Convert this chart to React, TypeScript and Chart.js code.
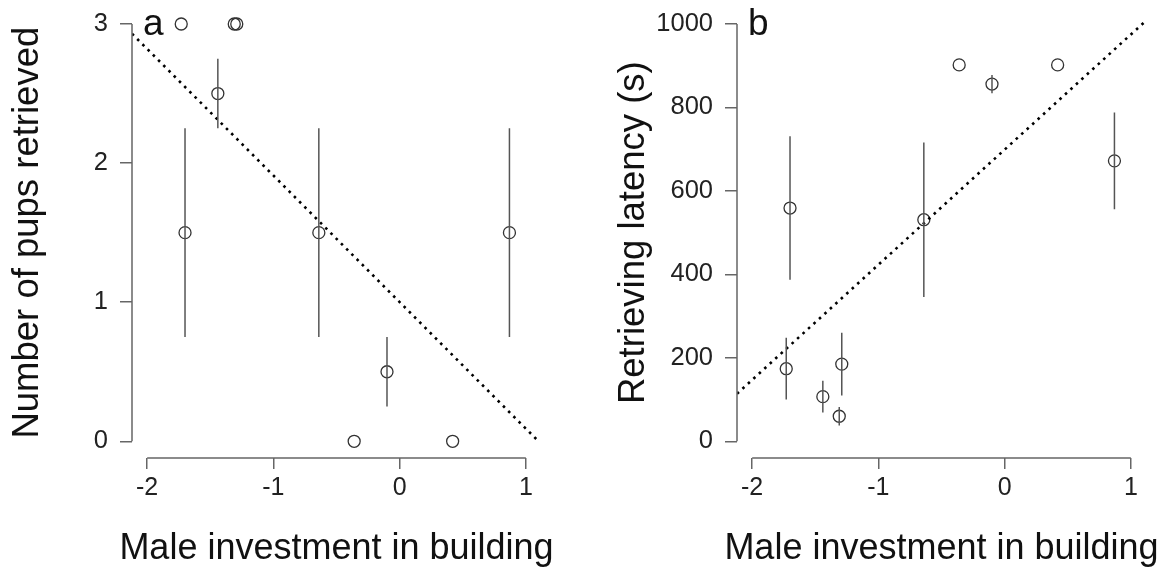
import React, { useEffect, useRef } from "react";
import { Chart, registerables } from "chart.js";

Chart.register(...registerables);

// ---- data ----
const investment = [-1.73, -1.7, -1.44, -1.31, -1.29, -0.64, -0.36, -0.1, 0.42, 0.87];
const pupsRetrieved = [3, 1.5, 2.5, 3, 3, 1.5, 0, 0.5, 0, 1.5];
const pupsError = [0, 0.75, 0.25, 0, 0, 0.75, 0, 0.25, 0, 0.75];
const latency = [174, 559, 107, 60, 185, 531, 902, 856, 902, 672];
const latencyError = [74, 172, 38, 22, 75, 185, 0, 22, 0, 116];

const fitPupsX = [-2.12, 1.1];
const fitPupsY = [2.93, 0];
const fitLatencyX = [-2.12, 1.12];
const fitLatencyY = [114, 1008];

const xTicks = [-2, -1, 0, 1];
const pupsTicks = [0, 1, 2, 3];
const latencyTicks = [0, 200, 400, 600, 800, 1000];

const xTitle = "Male investment in building";
const pupsTitle = "Number of pups retrieved";
const latencyTitle = "Retrieving latency (s)";

const FONT = '"Liberation Sans", Arial, Helvetica, sans-serif';
const AXIS = "#666";

const rStyle = {
  id: "rStyle",
  afterDraw(chart: any, _args: any, opts: any) {
    const { ctx, chartArea, scales } = chart;
    const x = scales.x;
    const y = scales.y;
    const xt = opts.xTicks as number[];
    const yt = opts.yTicks as number[];
    ctx.save();
    ctx.strokeStyle = AXIS;
    ctx.lineWidth = 1.5;
    ctx.beginPath();
    ctx.moveTo(x.getPixelForValue(xt[0]), chartArea.bottom);
    ctx.lineTo(x.getPixelForValue(xt[xt.length - 1]), chartArea.bottom);
    ctx.moveTo(chartArea.left, y.getPixelForValue(yt[0]));
    ctx.lineTo(chartArea.left, y.getPixelForValue(yt[yt.length - 1]));
    ctx.stroke();
    // panel letter
    ctx.fillStyle = "#111";
    ctx.font = `37px ${FONT}`;
    ctx.textBaseline = "alphabetic";
    ctx.textAlign = "left";
    ctx.fillText(opts.label, chartArea.left + 11, chartArea.top + 28);
    // x-axis title (drawn here so it is not squeezed to the axis width)
    ctx.font = `36px ${FONT}`;
    ctx.textAlign = "center";
    ctx.fillText(opts.xTitle, (chartArea.left + chartArea.right) / 2, chartArea.bottom + 101);
    ctx.restore();
  },
};

type PanelProps = {
  label: string;
  ys: number[];
  errs: number[];
  fitX: number[];
  fitY: number[];
  yTicks: number[];
  yMin: number;
  yMax: number;
  yTitle: string;
  yWidth: number;
  yTitlePad: number;
  padRight: number;
  left: number;
};

function Panel(p: PanelProps) {
  const ref = useRef<HTMLCanvasElement | null>(null);
  useEffect(() => {
    if (!ref.current) return;
    const errData: any[] = [];
    investment.forEach((x, i) => {
      if (p.errs[i] > 0) {
        errData.push({ x, y: p.ys[i] - p.errs[i] });
        errData.push({ x, y: p.ys[i] + p.errs[i] });
        errData.push({ x, y: null });
      }
    });
    const chart = new Chart(ref.current, {
      type: "scatter",
      data: {
        datasets: [
          {
            data: errData,
            showLine: true,
            spanGaps: false,
            pointRadius: 0,
            borderColor: "#555",
            borderWidth: 1.5,
          } as any,
          {
            data: p.fitX.map((x, i) => ({ x, y: p.fitY[i] })),
            showLine: true,
            pointRadius: 0,
            borderColor: "#000",
            borderWidth: 2.6,
            borderDash: [2.6, 4.8],
          } as any,
          {
            data: investment.map((x, i) => ({ x, y: p.ys[i] })),
            pointRadius: 6,
            pointStyle: "circle",
            backgroundColor: "rgba(0,0,0,0)",
            borderColor: "#333",
            borderWidth: 1.3,
          } as any,
        ],
      },
      options: {
        animation: false,
        responsive: true,
        maintainAspectRatio: false,
        layout: { padding: { left: 0, top: 5, right: p.padRight, bottom: 0 } },
        plugins: {
          legend: { display: false },
          tooltip: { enabled: false },
          rStyle: { label: p.label, xTicks, yTicks: p.yTicks, xTitle },
        } as any,
        scales: {
          x: {
            type: "linear",
            min: -2.12,
            max: 1.12,
            border: { display: false },
            grid: { drawOnChartArea: false, drawTicks: true, tickLength: 11, color: AXIS, lineWidth: 1.5 },
            afterBuildTicks: (s: any) => {
              s.ticks = xTicks.map((v) => ({ value: v }));
            },
            afterFit: (s: any) => {
              s.height = 116;
              s.paddingLeft = 0;
              s.paddingRight = 0;
            },
            ticks: {
              padding: 4,
              color: "#222",
              font: { family: FONT, size: 25 },
              maxRotation: 0,
              autoSkip: false,
              callback: (v: any) => String(v),
            },
            title: { display: false },
          },
          y: {
            type: "linear",
            min: p.yMin,
            max: p.yMax,
            border: { display: false },
            grid: { drawOnChartArea: false, drawTicks: true, tickLength: 12, color: AXIS, lineWidth: 1.5 },
            afterBuildTicks: (s: any) => {
              s.ticks = p.yTicks.map((v) => ({ value: v }));
            },
            afterFit: (s: any) => {
              s.width = p.yWidth;
              s.paddingTop = 0;
              s.paddingBottom = 0;
            },
            ticks: {
              padding: 12,
              color: "#222",
              font: { family: FONT, size: 25.5 },
              autoSkip: false,
              callback: (v: any) => String(v),
            },
            title: {
              display: true,
              text: p.yTitle,
              color: "#111",
              font: { family: FONT, size: 36.5 },
              padding: { top: p.yTitlePad, bottom: 0 },
            },
          },
        },
      },
      plugins: [rStyle as any],
    });
    return () => chart.destroy();
  }, []);
  return (
    <div style={{ position: "absolute", left: p.left, top: 0, width: 584, height: 574 }}>
      <canvas ref={ref} />
    </div>
  );
}

export default function App() {
  return (
    <div style={{ position: "fixed", left: 0, top: 0, width: 1168, height: 574, background: "#fff" }}>
      <Panel
        label="a"
        ys={pupsRetrieved}
        errs={pupsError}
        fitX={fitPupsX}
        fitY={fitPupsY}
        yTicks={pupsTicks}
        yMin={-0.12}
        yMax={3.12}
        yTitle={pupsTitle}
        yWidth={132}
        yTitlePad={6}
        padRight={43}
        left={0}
      />
      <Panel
        label="b"
        ys={latency}
        errs={latencyError}
        fitX={fitLatencyX}
        fitY={fitLatencyY}
        yTicks={latencyTicks}
        yMin={-40}
        yMax={1040}
        yTitle={latencyTitle}
        yWidth={153}
        yTitlePad={28}
        padRight={22}
        left={584}
      />
    </div>
  );
}
